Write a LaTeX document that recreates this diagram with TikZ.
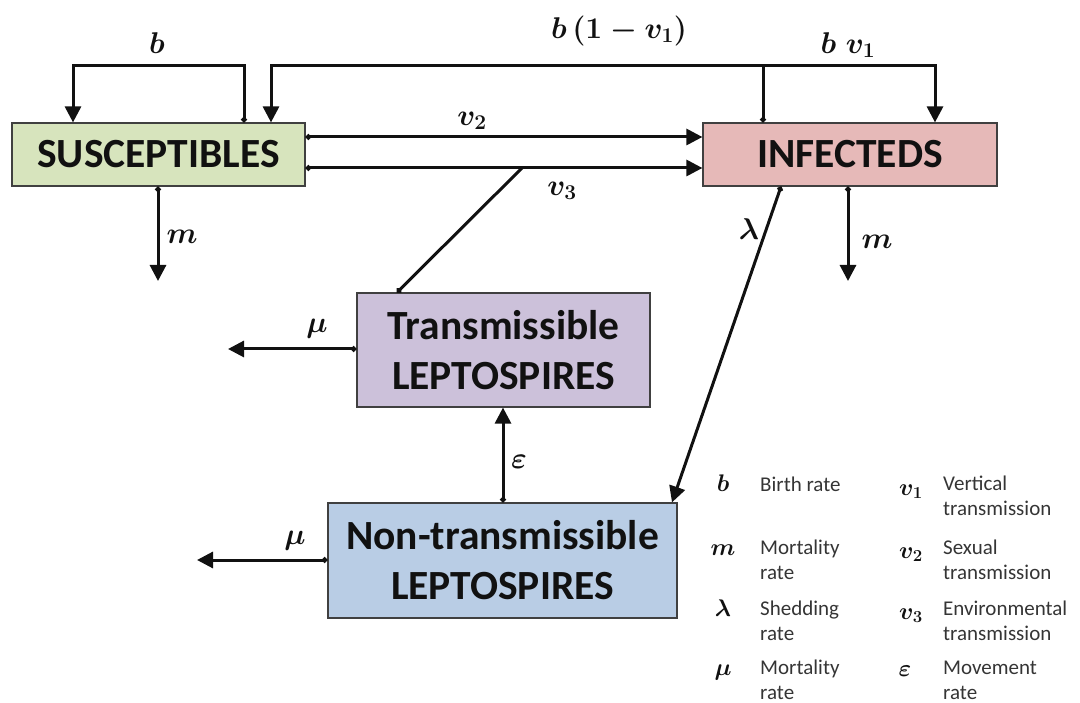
\RequirePackage{fix-cm}
\documentclass[tikz,border=0pt]{standalone}
\usepackage[no-math]{fontspec}
\setmainfont{Carlito}
\usepackage{amsmath}
\usetikzlibrary{arrows.meta}

\definecolor{sfill}{HTML}{D7E4BD}
\definecolor{ifill}{HTML}{E6B9B8}
\definecolor{tfill}{HTML}{CCC1DA}
\definecolor{nfill}{HTML}{B9CDE5}
\definecolor{edge}{HTML}{404040}
\definecolor{ink}{HTML}{111111}

% two-line legend description, first baseline on the node's base
\newcommand{\lgdtwo}[2]{\vtop{\hbox{#1}\hbox{#2}}}

\begin{document}
\begin{tikzpicture}[x=1pt,y=-1pt,
  box/.style={draw=edge, line width=1.2pt, inner sep=0pt, align=center,
    text=ink, font=\fontsize{41.5}{50}\selectfont\bfseries},
  flow/.style={draw=ink, line width=3pt, -{Triangle[length=16pt,width=16pt]}},
  dotflow/.style={draw=ink, line width=3pt,
    {Circle[length=5.5pt]}-{Triangle[length=16pt,width=16pt]}},
  dotline/.style={draw=ink, line width=3pt, {Circle[length=5.5pt]}-},
  lbl/.style={inner sep=0pt, text=ink, font=\fontsize{30}{36}\selectfont\boldmath},
  legsym/.style={inner sep=0pt, anchor=base, text=ink,
    font=\fontsize{24}{28}\selectfont\boldmath},
  legtxt/.style={inner sep=0pt, anchor=base west, text=ink!85,
    font=\fontsize{21}{25}\selectfont},
]
\useasboundingbox (0,0) rectangle (1080,703);

% compartments
\node[box, fill=sfill, minimum width=293pt, minimum height=63pt] (S) at (158.5,154.5) {SUSCEPTIBLES};
\node[box, fill=ifill, minimum width=294pt, minimum height=63pt] (I) at (850,154.5) {INFECTEDS};
\node[box, fill=tfill, minimum width=293pt, minimum height=114pt] (T) at (503.5,350) {Transmissible\\LEPTOSPIRES};
\node[box, fill=nfill, minimum width=349pt, minimum height=115pt] (N) at (502.5,560.5) {Non-transmissible\\LEPTOSPIRES};

% births of susceptibles
\coordinate (bTop) at (158,66);
\draw[dotflow] (244,0 |- S.north) |- (bTop) -| (73,0 |- S.north);
\node[lbl] (lb) at (157,43) {$b$};

% births of infecteds: split between the two classes
\coordinate (J) at (763,66);
\draw[dotline] (763,0 |- I.north) -- (J);
\draw[flow] (J) -| (271,0 |- S.north);
\draw[flow] (J) -| (935,0 |- I.north);
\node[lbl] (lbv) at (619,31) {$b\,(1-v_1)$};
\node[lbl] (lbv1) at (848,45) {$b\;v_1$};

% sexual and environmental transmission
\draw[dotflow] (S.east |- 0,137) -- (I.west |- 0,137);
\draw[dotflow] (S.east |- 0,168) -- (I.west |- 0,168);
\node[lbl] (lv2) at (472,121) {$v_2$};
\node[lbl] (lv3) at (562,191) {$v_3$};
\coordinate (E) at (522,168);
\draw[dotline] (397,0 |- T.north) -- (E);

% mortality of hosts
\coordinate (mS) at (158,281);
\draw[dotflow] (158,0 |- S.south) -- (mS);
\node[lbl] (lmS) at (182,237) {$m$};
\coordinate (mI) at (848,281);
\draw[dotflow] (848,0 |- I.south) -- (mI);
\node[lbl] (lmI) at (877,242) {$m$};

% shedding
\draw[dotflow] (781,0 |- I.south) -- (672,0 |- N.north);
\node[lbl] (llam) at (749,229) {$\lambda$};

% leptospire movement and mortality
\draw[dotflow] (503,0 |- N.north) -- (503,0 |- T.south);
\node[lbl] (leps) at (519,462) {$\varepsilon$};
\coordinate (muT) at (228,349);
\draw[dotflow] (T.west |- 0,349) -- (muT);
\node[lbl] (lmuT) at (317,329) {$\mu$};
\coordinate (muN) at (197,560);
\draw[dotflow] (N.west |- 0,560) -- (muN);
\node[lbl] (lmuN) at (295,541) {$\mu$};

% legend
\node[legsym] (sb) at (723,491) {$b$};
\node[legtxt] (tb) at (760,491) {Birth rate};
\node[legsym] (sm) at (723,555) {$m$};
\node[legtxt] (tm) at (760,554) {\lgdtwo{Mortality}{rate}};
\node[legsym] (sl) at (723,616) {$\lambda$};
\node[legtxt] (tl) at (760,615) {\lgdtwo{Shedding}{rate}};
\node[legsym] (su) at (723,675) {$\mu$};
\node[legtxt] (tu) at (760,674) {\lgdtwo{Mortality}{rate}};

\node[legsym] (s1) at (911,495) {$v_1$};
\node[legtxt] (t1) at (943,490) {\lgdtwo{Vertical}{transmission}};
\node[legsym] (s2) at (911,558) {$v_2$};
\node[legtxt] (t2) at (943,554) {\lgdtwo{Sexual}{transmission}};
\node[legsym] (s3) at (911,619) {$v_3$};
\node[legtxt] (t3) at (943,615) {\lgdtwo{Environmental}{transmission}};
\node[legsym] (se) at (905,676) {$\varepsilon$};
\node[legtxt] (te) at (943,674) {\lgdtwo{Movement}{rate}};
\end{tikzpicture}
\end{document}
